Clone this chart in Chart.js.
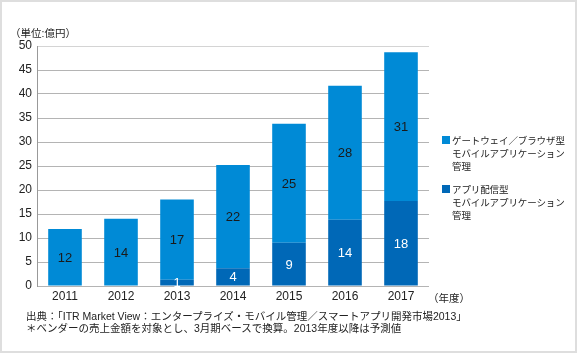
<!DOCTYPE html>
<html><head><meta charset="utf-8">
<script src="https://cdn.jsdelivr.net/npm/chart.js@4/dist/chart.umd.min.js"></script>
<style>
html,body{margin:0;padding:0;background:#fff;}
#wrap{position:relative;width:577px;height:353px;overflow:hidden;font-family:"Liberation Sans","Noto Sans CJK JP",sans-serif;color:#222;}
#frame{position:absolute;left:0;top:0;width:577px;height:353px;box-sizing:border-box;border:2px solid #dedede;pointer-events:none;}
.t{position:absolute;white-space:nowrap;}
.leg{position:absolute;font-size:9.5px;line-height:13px;white-space:nowrap;}
.sw{position:absolute;left:0;top:2px;width:8px;height:8px;}
.leg .tx{padding-left:10px;letter-spacing:-0.1px;}
</style></head>
<body>
<div id="wrap">
<canvas id="c" width="577" height="353"></canvas>
<div class="t" style="left:10px;top:25px;font-size:10.5px;">（単位:億円）</div>
<div class="t" style="left:428px;top:290px;font-size:10.5px;">（年度）</div>
<div class="leg" style="left:442px;top:134px;"><div class="sw" style="background:#008ad6"></div><div class="tx">ゲートウェイ／ブラウザ型<br>モバイルアプリケーション<br>管理</div></div>
<div class="leg" style="left:442px;top:183px;"><div class="sw" style="background:#0068b7"></div><div class="tx">アプリ配信型<br>モバイルアプリケーション<br>管理</div></div>
<div class="t" style="left:26px;top:310px;font-size:10.5px;line-height:12px;">出典：「ITR Market View：エンタープライズ・モバイル管理／スマートアプリ開発市場2013」</div>
<div class="t" style="left:26px;top:322px;font-size:10.5px;line-height:12px;">＊ベンダーの売上金額を対象とし、3月期ベースで換算。2013年度以降は予測値</div>
<div id="frame"></div>
</div>
<script>
const categories = ["2011","2012","2013","2014","2015","2016","2017"];
const appDistribution = [0, 0, 1.3, 3.7, 9.0, 13.8, 17.7];
const gatewayBrowser = [11.9, 14.0, 16.7, 21.5, 24.8, 27.9, 31.0];
const yTicks = [0,5,10,15,20,25,30,35,40,45,50];
const seriesNames = ["アプリ配信型モバイルアプリケーション管理","ゲートウェイ／ブラウザ型モバイルアプリケーション管理"];

const FONT = '"Liberation Sans","Noto Sans CJK JP",sans-serif';

const labelPlugin = {
  id: 'segLabels',
  afterDatasetsDraw(chart) {
    const ctx = chart.ctx;
    ctx.save();
    ctx.font = '13px ' + FONT;
    ctx.textAlign = 'center';
    ctx.textBaseline = 'middle';
    chart.data.datasets.forEach((ds, di) => {
      const meta = chart.getDatasetMeta(di);
      meta.data.forEach((bar, i) => {
        const v = ds.data[i];
        if (!v) return;
        const cy = (bar.y + bar.base) / 2;
        ctx.fillStyle = di === 0 ? '#ffffff' : '#1a1a1a';
        ctx.fillText(String(Math.round(v)), bar.x, cy + 1);
      });
    });
    ctx.restore();
  }
};

new Chart(document.getElementById('c'), {
  type: 'bar',
  data: {
    labels: categories,
    datasets: [
      { label: seriesNames[0], data: appDistribution, backgroundColor: '#0068b7', borderWidth: 0 },
      { label: seriesNames[1], data: gatewayBrowser, backgroundColor: '#008ad6', borderWidth: 0 }
    ]
  },
  options: {
    responsive: false,
    animation: false,
    layout: { padding: { left: 0, right: 148, top: 46, bottom: 0 } },
    plugins: { legend: { display: false }, tooltip: { enabled: false } },
    datasets: { bar: { categoryPercentage: 1.0, barPercentage: 0.6 } },
    scales: {
      x: {
        stacked: true,
        grid: { display: false, drawTicks: false },
        border: { display: false },
        ticks: { color: '#222', font: { size: 12, family: FONT }, padding: 3, maxRotation: 0 },
        afterFit(s) { s.height = 67; }
      },
      y: {
        stacked: true,
        min: 0, max: 50,
        afterBuildTicks(s) { s.ticks = yTicks.map(v => ({ value: v })); },
        grid: { color: (c) => c.tick && c.tick.value === 50 ? '#d4d4d4' : '#b4b4b4', lineWidth: 1, drawTicks: false },
        border: { display: true, color: '#999999' },
        ticks: { color: '#222', font: { size: 12, family: FONT }, padding: 5 },
        afterFit(s) { s.width = 37; }
      }
    }
  },
  plugins: [labelPlugin]
});
</script>
</body></html>
